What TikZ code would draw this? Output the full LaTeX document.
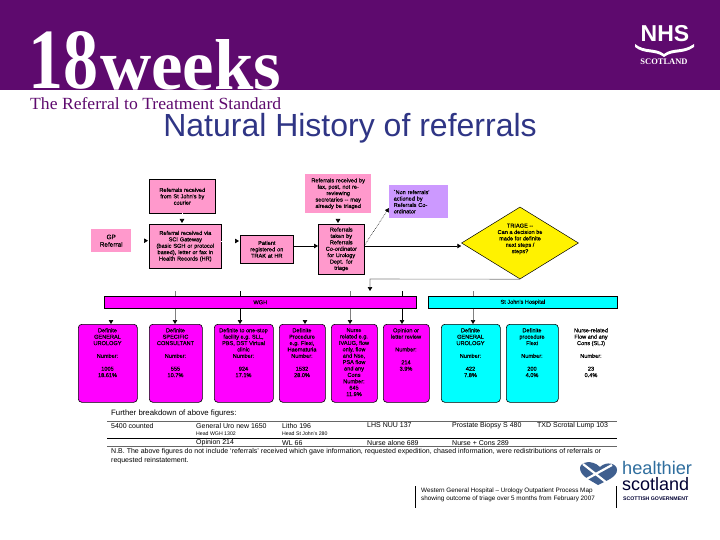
\documentclass[tikz,border=0pt]{standalone}
\usepackage{graphicx}
\usepackage{fontspec}
\setmainfont{Liberation Sans}
\newfontfamily\serifb{Liberation Serif}
\newfontfamily\txtf[FakeBold=0.35]{Liberation Sans}
\usetikzlibrary{arrows.meta,shapes.geometric}
\definecolor{band}{HTML}{5E0A6E}
\definecolor{titleblue}{HTML}{2F3585}
\definecolor{pinkbox}{HTML}{FF99CC}
\definecolor{lilac}{HTML}{CC99FF}
\definecolor{mag}{HTML}{FF00FF}
\definecolor{cy}{HTML}{00FFFF}
\definecolor{hblue}{HTML}{2F6E9E}
\definecolor{heartc}{HTML}{3F5F8F}
\tikzset{
 x=1pt,y=-1pt,
 tinytxt/.style={font=\txtf\fontsize{5.6}{6.4}\selectfont,text=black,align=center,inner sep=0pt},
 flowbox/.style={tinytxt,fill=pinkbox,draw=black,line width=0.6pt,anchor=north west},
 plainpink/.style={tinytxt,fill=pinkbox,anchor=north west},
 barbox/.style={tinytxt,draw=black,line width=0.6pt,anchor=north west,minimum height=12pt},
 outcome/.style={draw=black,line width=0.6pt,rounded corners=3.5pt,anchor=north west,minimum height=78pt},
 conn/.style={line width=0.7pt,-{Triangle[black,length=4pt,width=4.5pt]}},
 ghost/.style={conn,white},
 greyline/.style={black!50,line width=0.6pt},
 blackline/.style={black,line width=0.7pt},
 foot/.style={font=\fontsize{7}{8}\selectfont,text=black,anchor=west,inner sep=0pt},
 footsmall/.style={font=\fontsize{5.2}{6}\selectfont,text=black,anchor=west,inner sep=0pt},
 rulel/.style={line width=0.6pt},
}
\begin{document}
\begin{tikzpicture}
\useasboundingbox (0,0) rectangle (720,540);
\fill[white] (0,0) rectangle (720,540);
\fill[band] (0,0) rectangle (720,90);
% logo
\node (eighteen) [anchor=south west,inner sep=0pt,text=white,font=\serifb\bfseries] at (28,90) {\resizebox{70pt}{57pt}{18}};
\node (weeks) [anchor=south west,inner sep=0pt,text=white,font=\serifb\bfseries] at (100,90) {\resizebox{181pt}{50pt}{weeks}};
\node (std) [anchor=south west,inner sep=0pt,text=band,font=\serifb] at (30,110) {\resizebox{251pt}{12pt}{The Referral to Treatment Standard}};
\node (nhs) [inner sep=0pt,text=white,font=\bfseries\fontsize{23}{23}\selectfont] at (665,34) {NHS};
\fill[white] (635,44) .. controls (645,52) and (655,47) .. (664,54) .. controls (673,47) and (683,52) .. (694,44) -- (694,47) .. controls (683,55) and (673,50) .. (664,57) .. controls (655,50) and (645,55) .. (635,47) -- cycle;
\node (sco) [inner sep=0pt,text=white,font=\serifb\bfseries\fontsize{8.5}{9}\selectfont] at (664,62) {SCOTLAND};
\node (title) [anchor=base,inner sep=0pt,text=titleblue,font=\fontsize{32}{33}\selectfont] at (350,137) {Natural History of referrals};
% flow
\node[plainpink,minimum width=40pt,minimum height=23pt,font=\txtf\fontsize{6.4}{7.5}\selectfont] (gp) at (91,229) {GP\\Referral};
\node[flowbox,minimum width=66pt,minimum height=34pt,text width=62pt] (stj) at (149,179) {Referrals received\\from St John's by\\courier\\[8pt]};
\node[flowbox,minimum width=72pt,minimum height=44pt,text width=70pt] (recv) at (149,224) {Referral received via\\SCI Gateway\\(basic SGH or protocol\\based), letter or fax in\\Health Records (HR)\\[5pt]};
\node[flowbox,minimum width=53pt,minimum height=28pt,text width=50pt] (pat) at (240,235) {Patient\\registered on\\TRAK at HR};
\node[plainpink,minimum width=66pt,minimum height=39pt,text width=64pt] (fax) at (305,174) {Referrals received by\\fax, post, not re-\\reviewing\\secretaries -- may\\already be triaged};
\node[flowbox,minimum width=46pt,minimum height=50pt,text width=44pt] (coord) at (318,224) {Referrals\\taken by\\Referrals\\Co-ordinator\\for Urology\\Dept. for\\triage};
\node[plainpink,fill=lilac,minimum width=59pt,minimum height=33pt,text width=50pt,align=left] (non) at (389,185) {`Non referrals'\\actioned by\\Referrals Co-\\ordinator};
\node[diamond,draw=black,line width=0.5pt,fill=yellow,minimum width=117pt,minimum height=72pt,inner sep=0pt,aspect=1.6] (tri) at (520,243) {};
\node[tinytxt] (tritxt) at (520,239) {TRIAGE --\\Can a decision be\\made for definite\\next steps /\\steps?};
% bars
\node[barbox,fill=mag,minimum width=312pt] (wgh) at (104,296) {WGH};
\node[barbox,fill=cy,minimum width=189pt] (sjh) at (428,296) {St John's Hospital};
% outcomes
\node[outcome,fill=mag,minimum width=59pt] (b1) at (78,324) {};
\node[tinytxt,anchor=north] (t1) at (107.5,328) {Definite\\GENERAL\\UROLOGY\\[6.4pt]Number:\\[6.4pt]1005\\18.61\%};
\node[outcome,fill=mag,minimum width=53pt] (b2) at (149,324) {};
\node[tinytxt,anchor=north] (t2) at (175.5,328) {Definite\\SPECIFIC\\CONSULTANT\\[6.4pt]Number:\\[6.4pt]555\\10.7\%};
\node[outcome,fill=mag,minimum width=59pt] (b3) at (214,324) {};
\node[tinytxt,anchor=north] (t3) at (243.5,328) {Definite to one-stop\\facility e.g. SLL,\\PBS, DST Virtual\\clinic\\Number:\\[6.4pt]924\\17.1\%};
\node[outcome,fill=mag,minimum width=46pt] (b4) at (279,324) {};
\node[tinytxt,anchor=north] (t4) at (302,328) {Definite\\Procedure\\e.g. Flexi,\\Haematuria\\Number:\\[6.4pt]1532\\28.0\%};
\node[outcome,fill=mag,minimum width=46pt] (b5) at (331,324) {};
\node[tinytxt,anchor=north] (t5) at (354,328) {Nurse\\related e.g.\\IVAUG, flow\\only, flow\\and Nse,\\PSA flow\\and any\\Cons\\Number:\\645\\11.9\%};
\node[outcome,fill=mag,minimum width=46pt] (b6) at (383,324) {};
\node[tinytxt,anchor=north] (t6) at (406,328) {Opinion or\\letter review\\[6.4pt]Number:\\[6.4pt]214\\3.9\%};
\node[outcome,fill=cy,minimum width=59pt] (b7) at (441,324) {};
\node[tinytxt,anchor=north] (t7) at (470.5,328) {Definite\\GENERAL\\UROLOGY\\[6.4pt]Number:\\[6.4pt]422\\7.8\%};
\node[outcome,fill=cy,minimum width=52pt] (b8) at (506,324) {};
\node[tinytxt,anchor=north] (t8) at (532,328) {Definite\\procedure\\Flexi\\[6.4pt]Number:\\[6.4pt]200\\4.0\%};
\node[tinytxt,anchor=north] (t9) at (591,328) {Nurse-related\\Flow and any\\Cons (SLJ)\\[6.4pt]Number:\\[6.4pt]23\\0.4\%};
% connectors
\coordinate (cout) at (364,246);
\coordinate (nonin) at (389,208);
\coordinate (patout) at (293,246);
\coordinate (patin) at (240,241);
\coordinate (recvout) at (221,241);
\draw[ghost,shorten >=1pt] (gp.east) -- (gp.east -| recv.west);
\draw[ghost,shorten >=1pt] (recvout) -- (patin);
\draw[conn] (patout) -- (patout -| coord.west);
\draw[ghost,shorten >=1pt] (182,213) -- (182,224);
\draw[ghost,shorten >=1pt] (338,213) -- (338,224);
\draw[conn,densely dotted,line width=0.5pt] (cout) -- (nonin);
\draw[conn] (cout) -- (cout -| tri.west);
\draw[conn,greyline] (tri.south) -- (370,279) -- (370,291);
% stubs above bars
\coordinate (a2) at (175,291); \coordinate (a3) at (240,291); \coordinate (a5) at (350,291); \coordinate (a6) at (402,291); \coordinate (a7) at (473,291);
\draw[greyline] (a2) -- (a2 |- wgh.north);
\draw[blackline] (a3) -- (a3 |- wgh.north);
\draw[greyline] (a5) -- (a5 |- wgh.north);
\draw[blackline] (a6) -- (a6 |- wgh.north);
\draw[greyline] (a7) -- (a7 |- sjh.north);
% bars to outcomes
\draw[ghost] (111,316) -- (111,324);
\draw[conn,greyline] (a2 |- wgh.south) -- (a2 |- b2.north);
\draw[conn,blackline] (a3 |- wgh.south) -- (a3 |- b3.north);
\draw[ghost] (305,316) -- (305,324);
\draw[conn,greyline] (a5 |- wgh.south) -- (a5 |- b5.north);
\draw[conn,blackline] (a6 |- wgh.south) -- (a6 |- b6.north);
\draw[conn,greyline] (a7 |- sjh.south) -- (a7 |- b7.north);
% breakdown
\node[foot,font=\fontsize{7.8}{9}\selectfont] (h) at (111,413) {Further breakdown of above figures:};
\draw[rulel,black!60] (107,421) -- (617,421);
\draw[rulel] (107,438) -- (617,438);
\draw[rulel,black!60] (107,446.5) -- (617,446.5);
\node[foot] (f1) at (111,425.5) {5400 counted};
\node[foot] (f2) at (196,425.5) {General Uro new 1650};
\node[footsmall] (f3) at (196,434) {Head WGH 1302};
\node[foot] (f4) at (196,443) {Opinion 214};
\node[foot] (f5) at (282,425.5) {Litho 196};
\node[footsmall] (f6) at (282,434) {Head St John's 280};
\node[foot] (f7) at (282,443) {WL 66};
\node[foot] (f8) at (367,425.5) {LHS NUU 137};
\node[foot] (f9) at (367,443) {Nurse alone 689};
\node[foot] (f10) at (452,425.5) {Prostate Biopsy S 480};
\node[foot] (f11) at (452,443) {Nurse + Cons 289};
\node[foot] (f12) at (537,425.5) {TXD Scrotal Lump 103};
\node[foot] (nb1) at (111,451.5) {N.B. The above figures do not include `referrals' received which gave information, requested expedition, chased information, were redistributions of referrals or};
\node[foot] (nb2) at (111,460.5) {requested reinstatement.};
% source block
\coordinate (s1) at (415,486); \coordinate (s2) at (415,508);
\coordinate (s3) at (616,486); \coordinate (s4) at (616,508);
\draw[blackline] (s1) -- (s2);
\draw[blackline] (s3) -- (s4);
\node[footsmall,font=\fontsize{6.35}{8}\selectfont,align=left,anchor=north west] (src) at (421,488) {Western General Hospital -- Urology Outpatient Process Map\\showing outcome of triage over 5 months from February 2007};
% healthier logo
\fill[heartc] (598,485) .. controls (590,480) and (580,476) .. (580,468) .. controls (580,462) and (592,459) .. (600,467) .. controls (606,461) and (617,463) .. (617,470) .. controls (617,477) and (606,481) .. (598,485) -- cycle;
\draw[white,line width=2.2pt] (583,464) -- (607,483);
\draw[white,line width=2.2pt] (583,481) -- (612,465);
\node[inner sep=0pt,anchor=base west,text=hblue,font=\fontsize{18.2}{18}\selectfont] (he) at (622,474) {healthier};
\node[inner sep=0pt,anchor=base west,text=black!80!blue,font=\fontsize{18}{18}\selectfont] (sc) at (622,490) {scotland};
\node[inner sep=0pt,anchor=base west,text=black!80!blue,font=\bfseries\fontsize{5.2}{5}\selectfont] (go) at (623,500) {SCOTTISH GOVERNMENT};
\end{tikzpicture}
\end{document}
